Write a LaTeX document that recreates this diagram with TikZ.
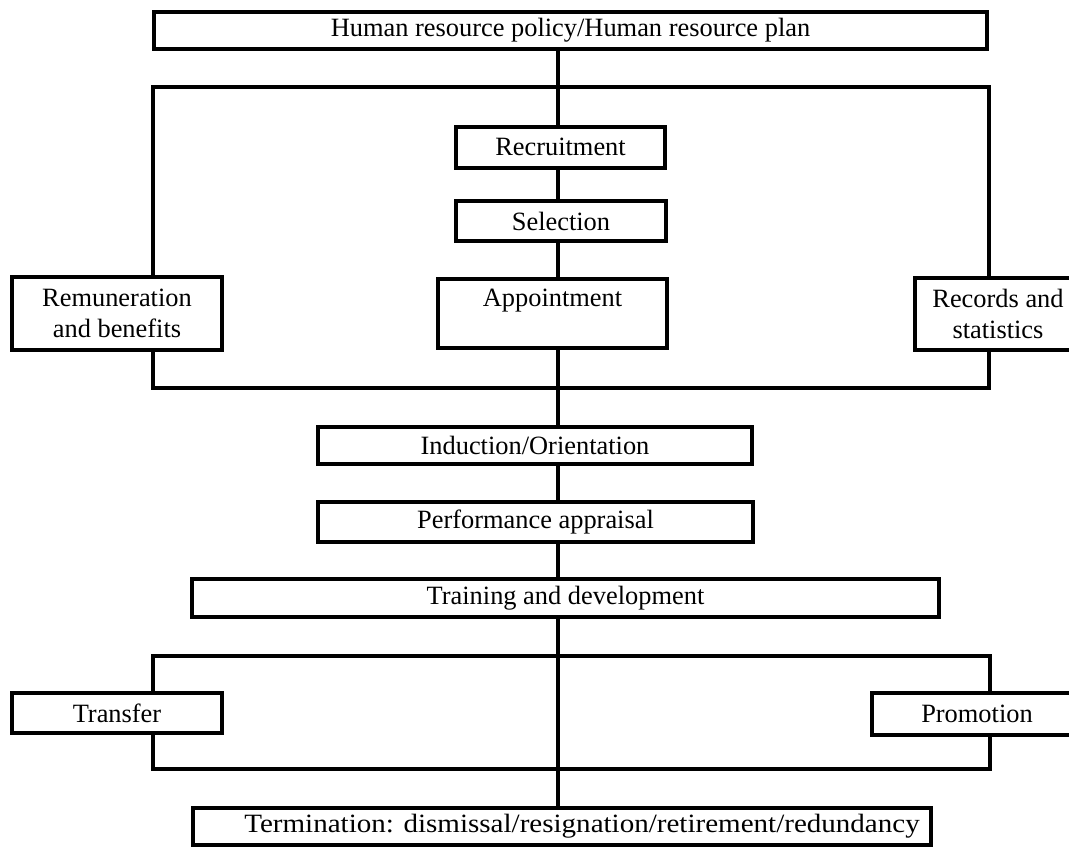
\documentclass[tikz,border=0pt]{standalone}
\usepackage{graphicx}
\usepackage{fontspec}
\setmainfont{Liberation Serif}
\begin{document}
\begin{tikzpicture}[x=1pt,y=-1pt,
  box/.style={draw=black, line width=4pt, inner sep=0pt, align=center,
    font=\fontsize{26.4}{31}\selectfont, fill=white},
  conn/.style={draw=black, line width=3.8pt}]
\useasboundingbox (0,0) rectangle (1069,847);
% frame and centre-line coordinates
\coordinate (cx) at (558,0);
\coordinate (fTL) at (153,87);
\coordinate (fTR) at (989,87);
\coordinate (fBL) at (153,388);
\coordinate (fBR) at (989,388);
\coordinate (gTL) at (153,656);
\coordinate (gTR) at (990,656);
\coordinate (gBR) at (990,769);
% boxes
\node[box, minimum width=833, minimum height=37] (top) at (570.5,30.5) {Human resource policy/Human resource plan};
\node[box, minimum width=209, minimum height=41] (recr) at (560.5,147) {Recruitment};
\node[box, minimum width=210, minimum height=40] (sel) at (561,221) {Selection};
\node[box, minimum width=229, minimum height=69] (app) at (552.5,313.5) {Appointment\\\mbox{}};
\node[box, minimum width=210, minimum height=73] (rem) at (117,313.5) {Remuneration\\and benefits};
\node[box, minimum width=166, minimum height=72] (rs) at (998,314) {Records and\\statistics};
\node[box, minimum width=434, minimum height=37] (ind) at (535,445.5) {Induction/Orientation};
\node[box, minimum width=435, minimum height=40] (perf) at (535.5,522) {Performance appraisal};
\node[box, minimum width=747, minimum height=38] (train) at (565.5,598) {Training and development};
\node[box, minimum width=210, minimum height=40] (trans) at (117,713) {Transfer};
\node[box, minimum width=210, minimum height=42] (promo) at (977,714) {Promotion};
\node[box, minimum width=738, minimum height=37] (term) at (562,826.5) {\hspace*{40pt}\scalebox{1.1}[1]{Termination: dismissal/resignation/retirement/redundancy}};
% upper frame
\draw[conn] (rem.north -| fTL) -- (fTL) -- (fTR) -- (rs.north -| fTR);
\draw[conn] (rem.south -| fBL) -- (fBL) -- (fBR) -- (rs.south -| fBR);
% lower frame
\draw[conn] (trans.north -| gTL) -- (gTL) -- (gTR) -- (promo.north -| gTR);
\draw[conn] (trans.south -| gTL) |- (gBR) -- (promo.south -| gBR);
% centre line
\draw[conn] (top.south -| cx) -- (recr.north -| cx);
\draw[conn] (recr.south -| cx) -- (sel.north -| cx);
\draw[conn] (sel.south -| cx) -- (app.north -| cx);
\draw[conn] (app.south -| cx) -- (ind.north -| cx);
\draw[conn] (ind.south -| cx) -- (perf.north -| cx);
\draw[conn] (perf.south -| cx) -- (train.north -| cx);
\draw[conn] (train.south -| cx) -- (term.north -| cx);
\end{tikzpicture}
\end{document}
